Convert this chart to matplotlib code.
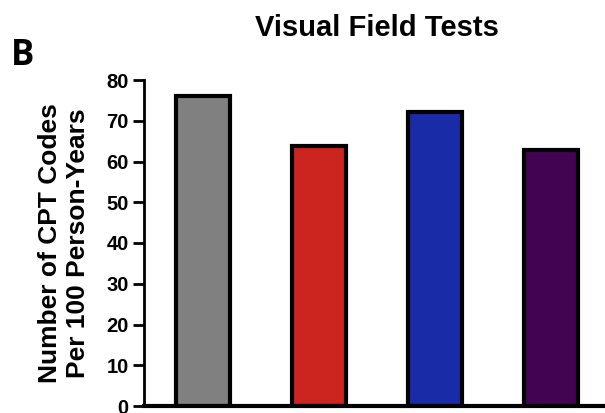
import numpy as np
import matplotlib
matplotlib.use("Agg")
import matplotlib.pyplot as plt

# Data
groups = ["Group 1", "Group 2", "Group 3", "Group 4"]
values = [76.1, 63.8, 72.2, 62.7]
colors = ["#808080", "#CC2520", "#1A2BA8", "#420352"]
yticks = [0, 10, 20, 30, 40, 50, 60, 70, 80]

plt.rcParams['font.family'] = ['Liberation Sans', 'DejaVu Sans']
plt.rcParams['font.weight'] = 'bold'

fig = plt.figure(figsize=(6.05, 4.13), dpi=100)
ax = fig.add_axes([144/605, 7/413, 461/605, 326/413])

x = np.arange(len(values))
ax.bar(x, values, width=0.46, color=colors, edgecolor="black", linewidth=3)

ax.set_xlim(-0.509, 3.465)
ax.set_ylim(0, 80)
ax.set_xticks([])
ax.set_yticks(yticks)
ax.tick_params(axis='y', length=8, width=2, labelsize=14.5, pad=3)
for lab in ax.get_yticklabels():
    lab.set_fontweight('bold')

ax.spines['top'].set_visible(False)
ax.spines['right'].set_visible(False)
ax.spines['left'].set_linewidth(2)
ax.spines['bottom'].set_linewidth(3)

ax.set_ylabel("Number of CPT Codes\nPer 100 Person-Years", fontsize=19,
              fontweight='bold', labelpad=12, linespacing=1.2)

fig.text(377/605, 1 - 36/413, "Visual Field Tests", ha='center', va='baseline',
         fontsize=21, fontweight='bold')
fig.text(11/605, 1 - 65/413, "B", ha='left', va='baseline', fontsize=25,
         fontweight='bold', family=['Open Sans', 'DejaVu Sans'])

fig.savefig("out.png", dpi=100)
